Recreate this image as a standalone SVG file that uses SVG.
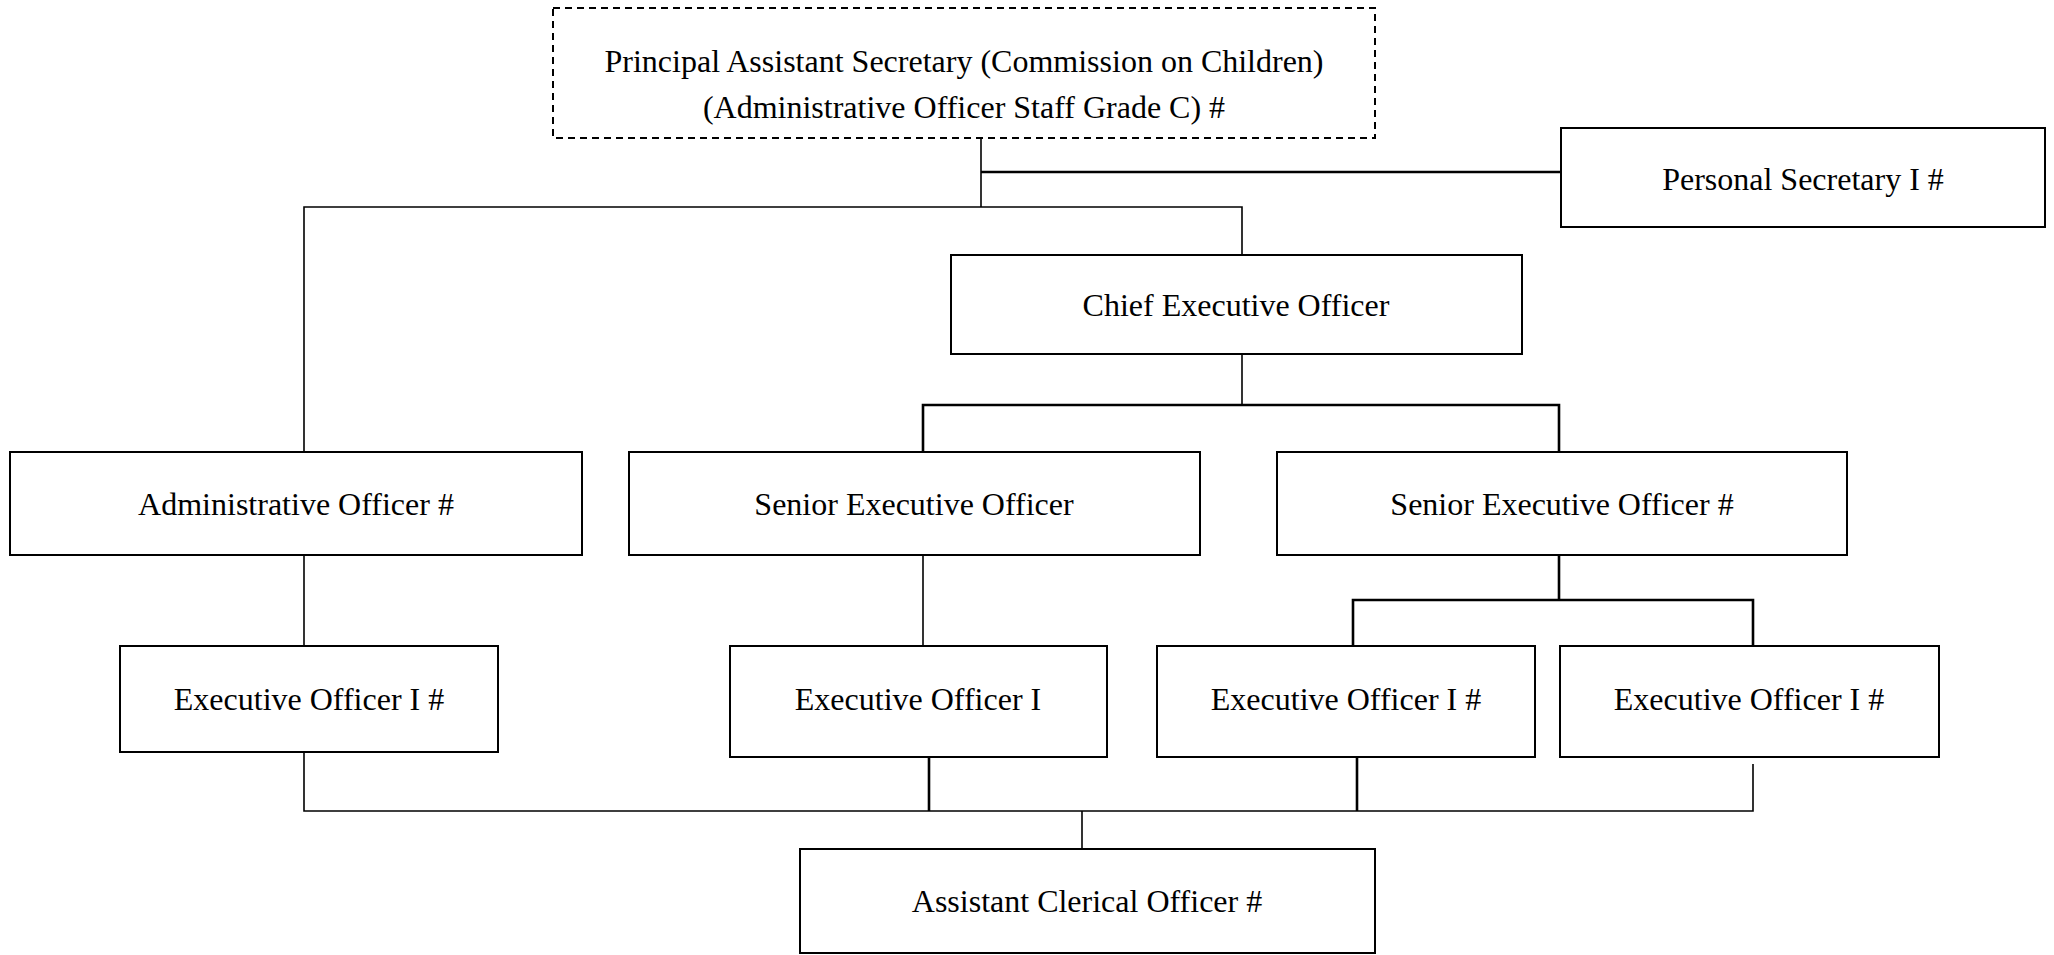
<svg xmlns="http://www.w3.org/2000/svg" width="2054" height="955" viewBox="0 0 2054 955">
<style>
.box{fill:#fff;stroke:#000;stroke-width:2}
.dash{fill:#fff;stroke:#000;stroke-width:2;stroke-dasharray:7 5}
.t{font-family:"Liberation Serif","Times New Roman",serif;font-size:32px;fill:#000;text-anchor:middle}
.c{fill:none;stroke:#000;stroke-width:1.6}
.ck{fill:none;stroke:#000;stroke-width:2.6}
</style>
<rect width="2054" height="955" fill="#fff"/>
<g id="connectors">
<path class="c" d="M981 138V207"/>
<path class="ck" d="M981 172H1561"/>
<path class="c" d="M304 452V207H1242V255"/>
<path class="c" d="M1242 354V405"/>
<path class="ck" d="M923 452V405H1559V452"/>
<path class="c" d="M304 555V646"/>
<path class="c" d="M923 555V646"/>
<path class="ck" d="M1559 555V600"/>
<path class="ck" d="M1353 646V600H1753V646"/>
<path class="c" d="M304 752V811H1753V764"/>
<path class="ck" d="M929 757V811"/>
<path class="ck" d="M1357 757V811"/>
<path class="c" d="M1082 811V849"/>
</g>
<g id="pas">
<rect class="dash" x="553" y="8" width="822" height="130"/>
<text class="t" x="964" y="72">Principal Assistant Secretary (Commission on Children)</text>
<text class="t" x="964" y="118">(Administrative Officer Staff Grade C) #</text>
</g>
<g id="ps">
<rect class="box" x="1561" y="128" width="484" height="99"/>
<text class="t" x="1803" y="190">Personal Secretary I #</text>
</g>
<g id="ceo">
<rect class="box" x="951" y="255" width="571" height="99"/>
<text class="t" x="1236" y="316">Chief Executive Officer</text>
</g>
<g id="ao">
<rect class="box" x="10" y="452" width="572" height="103"/>
<text class="t" x="296" y="515">Administrative Officer #</text>
</g>
<g id="seo1">
<rect class="box" x="629" y="452" width="571" height="103"/>
<text class="t" x="914" y="515">Senior Executive Officer</text>
</g>
<g id="seo2">
<rect class="box" x="1277" y="452" width="570" height="103"/>
<text class="t" x="1562" y="515">Senior Executive Officer #</text>
</g>
<g id="eo1">
<rect class="box" x="120" y="646" width="378" height="106"/>
<text class="t" x="309" y="710">Executive Officer I #</text>
</g>
<g id="eo2">
<rect class="box" x="730" y="646" width="377" height="111"/>
<text class="t" x="918" y="710">Executive Officer I</text>
</g>
<g id="eo3">
<rect class="box" x="1157" y="646" width="378" height="111"/>
<text class="t" x="1346" y="710">Executive Officer I #</text>
</g>
<g id="eo4">
<rect class="box" x="1560" y="646" width="379" height="111"/>
<text class="t" x="1749" y="710">Executive Officer I #</text>
</g>
<g id="aco">
<rect class="box" x="800" y="849" width="575" height="104"/>
<text class="t" x="1087" y="912">Assistant Clerical Officer #</text>
</g>
</svg>
